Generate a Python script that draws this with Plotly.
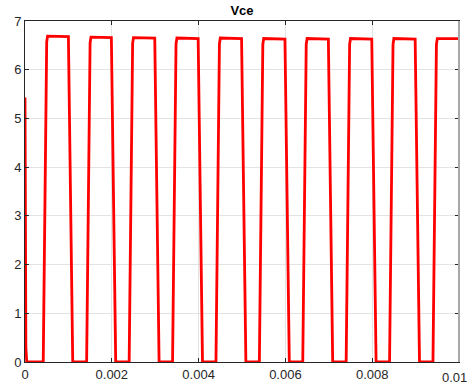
import plotly.graph_objects as go

# ---- data (seconds, volts) ----
start_t = [0.0, 0.00002, 0.00004]
start_v = [5.43, 0.3, 0.0]
rise_start = [0.00042, 0.00142, 0.00240, 0.00340, 0.00440, 0.00540, 0.00640, 0.00740, 0.00840, 0.00940]
rise_top = [0.00052, 0.00152, 0.00250, 0.00350, 0.00450, 0.00550, 0.00650, 0.00750, 0.00850, 0.00950]
high_level = [6.69, 6.67, 6.66, 6.65, 6.65, 6.64, 6.64, 6.64, 6.64, 6.64]
fall_top = [0.00100, 0.00199, 0.00299, 0.00399, 0.00499, 0.00599, 0.00699, 0.00799, 0.00899]
low_start = [0.00110, 0.00209, 0.00309, 0.00409, 0.00509, 0.00609, 0.00709, 0.00809, 0.00909]
end_t = 0.01

x_ticks = [0, 0.002, 0.004, 0.006, 0.008, 0.01]
x_ticklabels = ["0", "0.002", "0.004", "0.006", "0.008", "0.01"]
y_ticks = [0, 1, 2, 3, 4, 5, 6, 7]

# ---- build the polyline from the read events ----
t = list(start_t)
v = list(start_v)
for k in range(len(rise_start)):
    t += [rise_start[k], rise_top[k] - 0.00002, rise_top[k]]
    v += [0.0, high_level[k] - 0.12, high_level[k]]
    if k < len(fall_top):
        t += [fall_top[k], low_start[k]]
        v += [high_level[k] - 0.01, 0.0]
    else:
        t += [end_t]
        v += [high_level[k]]

fig = go.Figure()
fig.add_trace(go.Scatter(x=t, y=v, mode="lines",
                         line=dict(color="#ff0000", width=2.8),
                         showlegend=False, hoverinfo="skip"))

font_family = "Liberation Sans, Arial, sans-serif"
axis_font = dict(family=font_family, size=13, color="#262626")
common = dict(showgrid=True, gridcolor="#e3e3e3", gridwidth=1,
              showline=True, linecolor="#262626", linewidth=1,
              mirror="ticks", ticks="inside", ticklen=4, tickcolor="#262626",
              zeroline=False, tickfont=axis_font, automargin=False)

# last label is drawn as an annotation so it stays inside the figure edge
shown_text = x_ticklabels[:-1] + [""]
fig.update_xaxes(range=[0, 0.0100001], tickvals=x_ticks, ticktext=shown_text, **common)
fig.update_yaxes(range=[0, 7], tickvals=y_ticks, **common)

fig.add_annotation(x=1, xref="paper", y=0, yref="paper", text=x_ticklabels[-1],
                   showarrow=False, xanchor="right", yanchor="middle",
                   xshift=10, yshift=-15, font=axis_font)

fig.add_shape(type="line", xref="paper", yref="paper", x0=1, x1=1, y0=0, y1=1,
              line=dict(color="#a8a8a8", width=2), layer="above")

fig.update_layout(
    width=470, height=385,
    margin=dict(l=25, r=11, t=21, b=23),
    paper_bgcolor="white", plot_bgcolor="white",
    title=dict(text="<b>Vce</b>", x=0.5, xref="paper", y=1 - 10 / 385, yanchor="middle",
               font=dict(family=font_family, size=13, color="#000000")),
)

fig.write_html("out.html")
